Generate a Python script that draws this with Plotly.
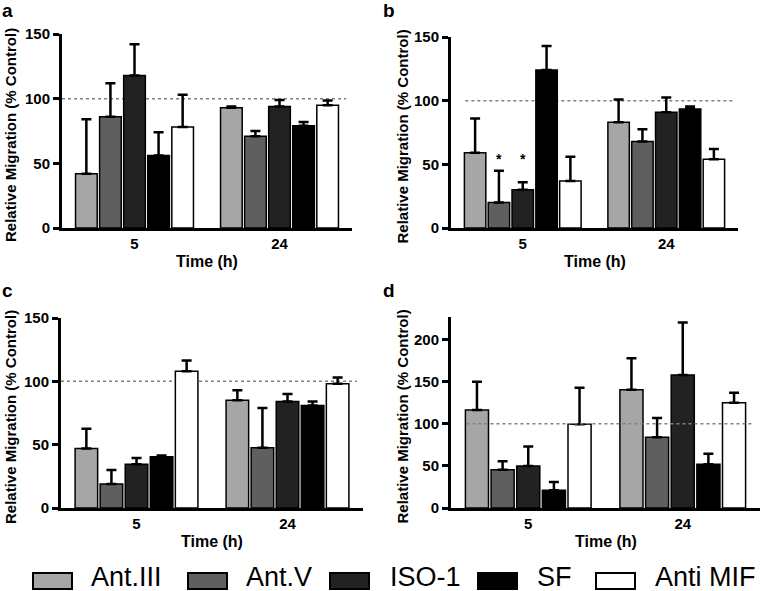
import plotly.graph_objects as go

W, H = 761, 591

times = ["5", "24"]
treatments = ["Ant.III", "Ant.V", "ISO-1", "SF", "Anti MIF"]
fills = ["#a6a6a6", "#5f5f5f", "#222222", "#000000", "#ffffff"]

# Panel a (values per treatment in legend order)
a_5h_mean = [42, 86, 118, 56, 78]
a_5h_err = [42, 26, 24, 18, 25]
a_24h_mean = [93, 71, 94, 79, 95]
a_24h_err = [1, 4, 5, 3, 3.5]

# Panel b
b_5h_mean = [59, 20, 30, 124, 37]
b_5h_err = [27, 25, 6, 19, 19]
b_24h_mean = [83, 68, 91, 93.5, 54]
b_24h_err = [18, 9.5, 11.5, 2, 8]
b_5h_sig = ["", "*", "*", "", ""]

# Panel c
c_5h_mean = [47, 19, 34.5, 40.5, 108]
c_5h_err = [15.5, 11, 5, 1, 8.5]
c_24h_mean = [85, 47.5, 84, 81, 98]
c_24h_err = [8, 31.5, 6, 3, 5]

# Panel d
d_5h_mean = [116.5, 45.5, 50, 21, 99.5]
d_5h_err = [33.5, 10, 23, 10, 43.5]
d_24h_mean = [140.5, 84, 158, 52, 125]
d_24h_err = [37.5, 23, 62.5, 12.5, 12]

control_level = 100
y_ticks_150 = [0, 50, 100, 150]
y_ticks_200 = [0, 50, 100, 150, 200]

FONT = "Liberation Sans, Arial, Helvetica, sans-serif"
BARGAP = 0.17

panels = [
    dict(letter="a", m5=a_5h_mean, e5=a_5h_err, m24=a_24h_mean, e24=a_24h_err,
         ymax=150, ticks=y_ticks_150, px=(62, 352), py=(34, 228), lx0=0.0,
         layer="below", sig=None, letter_xy=(0, 0), ytitle_x=10),
    dict(letter="b", m5=b_5h_mean, e5=b_5h_err, m24=b_24h_mean, e24=b_24h_err,
         ymax=150, ticks=y_ticks_150, px=(451, 738), py=(37, 228), lx0=0.05,
         layer="below", sig=b_5h_sig, letter_xy=(381, 0), ytitle_x=402),
    dict(letter="c", m5=c_5h_mean, e5=c_5h_err, m24=c_24h_mean, e24=c_24h_err,
         ymax=150, ticks=y_ticks_150, px=(61, 363), py=(318, 508), lx0=0.0,
         layer="below", sig=None, letter_xy=(0, 280), ytitle_x=10),
    dict(letter="d", m5=d_5h_mean, e5=d_5h_err, m24=d_24h_mean, e24=d_24h_err,
         ymax=227, ticks=y_ticks_200, px=(451, 760), py=(317, 508), lx0=0.05,
         layer="above", sig=None, letter_xy=(381, 280), ytitle_x=402),
]


def fx(px):
    return px / W


def fy(py):
    return 1 - py / H


fig = go.Figure()
shapes = []
annotations = []
layout = {}

for k, p in enumerate(panels):
    sfx = "" if k == 0 else str(k + 1)
    xa, ya = "x" + sfx, "y" + sfx
    for i, name in enumerate(treatments):
        fig.add_trace(go.Bar(
            x=times, y=[p["m5"][i], p["m24"][i]], name=name,
            xaxis=xa, yaxis=ya, showlegend=False,
            marker=dict(color=fills[i], line=dict(color="black", width=1.5)),
            error_y=dict(type="data", symmetric=False,
                         array=[p["e5"][i], p["e24"][i]], arrayminus=[0, 0],
                         color="black", thickness=2.5, width=5),
        ))
    layout["xaxis" + sfx] = dict(
        domain=[fx(p["px"][0]), fx(p["px"][1])], anchor=ya, type="category",
        range=[-0.5, 1.5], showline=True, linecolor="black", linewidth=3,
        ticks="", showgrid=False, zeroline=False, automargin=False,
        tickfont=dict(family=FONT, size=15, color="black", weight="bold"),
    )
    layout["yaxis" + sfx] = dict(
        domain=[fy(p["py"][1]), fy(p["py"][0])], anchor=xa,
        range=[0, p["ymax"]], tickvals=p["ticks"], showline=True,
        linecolor="black", linewidth=3, ticks="outside", ticklen=6,
        tickwidth=3, tickcolor="black", showgrid=False, zeroline=False,
        automargin=False,
        tickfont=dict(family=FONT, size=15, color="black", weight="bold"),
    )
    shapes.append(dict(type="line", xref=xa + " domain", yref=ya,
                       x0=p["lx0"], x1=0.98, y0=control_level, y1=control_level,
                       line=dict(color="#808080", width=1.5, dash="dot"),
                       layer=p["layer"]))
    # panel letter
    annotations.append(dict(text="<b>%s</b>" % p["letter"], xref="paper", yref="paper",
                            x=fx(p["letter_xy"][0]), y=fy(p["letter_xy"][1] - 2),
                            xanchor="left", yanchor="top", showarrow=False,
                            font=dict(family=FONT, size=19, color="black")))
    # axis titles
    annotations.append(dict(text="<b>Relative Migration (% Control)</b>",
                            xref="paper", yref="paper", textangle=-90,
                            x=fx(p["ytitle_x"]), y=fy((p["py"][0] + p["py"][1]) / 2 + 4),
                            xanchor="center", yanchor="middle", showarrow=False,
                            font=dict(family=FONT, size=15, color="black")))
    annotations.append(dict(text="<b>Time (h)</b>", xref="paper", yref="paper",
                            x=fx((p["px"][0] + p["px"][1]) / 2), y=fy(p["py"][1] + 33),
                            xanchor="center", yanchor="middle", showarrow=False,
                            font=dict(family=FONT, size=16, color="black")))
    # significance markers
    if p["sig"]:
        starred = [i for i, s in enumerate(p["sig"]) if s]
        star_y = max(p["m5"][i] + p["e5"][i] for i in starred) + 9
        slot = (1 - BARGAP) / len(treatments)
        for i in starred:
            annotations.append(dict(text="<b>%s</b>" % p["sig"][i], xref=xa, yref=ya,
                                    x=(i - 2) * slot, y=star_y, showarrow=False,
                                    xanchor="center", yanchor="middle",
                                    font=dict(family=FONT, size=14, color="black")))

# legend drawn manually (large swatches)
box_left = [33, 188, 330, 478, 596]
text_left = [91, 246, 390, 537, 655]
for i, name in enumerate(treatments):
    shapes.append(dict(type="rect", xref="paper", yref="paper",
                       x0=fx(box_left[i]), x1=fx(box_left[i] + 39),
                       y0=fy(589), y1=fy(573), fillcolor=fills[i],
                       line=dict(color="black", width=2)))
    annotations.append(dict(text=name, xref="paper", yref="paper",
                            x=fx(text_left[i] - 2), y=fy(577), xanchor="left",
                            yanchor="middle", showarrow=False,
                            font=dict(family=FONT, size=27, color="black")))

fig.update_layout(
    width=W, height=H, margin=dict(l=0, r=0, t=0, b=0, autoexpand=False),
    paper_bgcolor="white", plot_bgcolor="white",
    barmode="group", bargap=BARGAP, bargroupgap=0.1,
    showlegend=False, shapes=shapes, annotations=annotations,
    font=dict(family=FONT, color="black"),
    **layout,
)

fig.write_html("out.html", config={"displayModeBar": False},
               post_script="document.body.style.margin='0';document.body.style.overflow='hidden';")
